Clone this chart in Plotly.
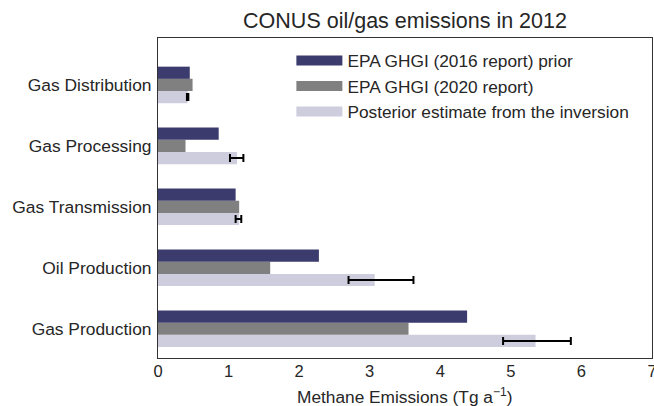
import plotly.graph_objects as go

categories = ["Gas Production", "Oil Production", "Gas Transmission", "Gas Processing", "Gas Distribution"]
ghgi_2016 = [4.38, 2.28, 1.10, 0.86, 0.45]
ghgi_2020 = [3.55, 1.59, 1.15, 0.39, 0.49]
posterior = [5.35, 3.07, 1.15, 1.12, 0.42]
post_err_plus = [0.50, 0.55, 0.03, 0.09, 0.01]
post_err_minus = [0.46, 0.37, 0.05, 0.10, 0.01]
x_ticks = [0, 1, 2, 3, 4, 5, 6, 7]

names = ["EPA GHGI (2016 report) prior", "EPA GHGI (2020 report)", "Posterior estimate from the inversion"]
colors = ["#3b3b6d", "#808080", "#cdcddd"]
x_title = "Methane Emissions (Tg a<sup>−1</sup>)"

FONT = "Liberation Sans, Arial, sans-serif"
TXT = "#262626"

fig = go.Figure()
fig.add_trace(go.Bar(
    y=categories, x=posterior, orientation="h", name=names[2], showlegend=False,
    marker=dict(color=colors[2], line=dict(width=0)),
    error_x=dict(type="data", array=post_err_plus, arrayminus=post_err_minus,
                 symmetric=False, color="black", thickness=2, width=4),
))
fig.add_trace(go.Bar(
    y=categories, x=ghgi_2020, orientation="h", name=names[1], showlegend=False,
    marker=dict(color=colors[1], line=dict(width=0)),
))
fig.add_trace(go.Bar(
    y=categories, x=ghgi_2016, orientation="h", name=names[0], showlegend=False,
    marker=dict(color=colors[0], line=dict(width=0)),
))
# legend entries drawn as wide rectangles (matplotlib-style patches)
for nm, c in zip(names, colors):
    fig.add_trace(go.Scatter(
        x=[None], y=[None], mode="lines", name=nm,
        line=dict(color=c, width=12), hoverinfo="skip",
    ))

fig.update_layout(
    width=654, height=406,
    margin=dict(l=158, r=2, t=38, b=48),
    paper_bgcolor="white", plot_bgcolor="white",
    barmode="group", bargap=0.4, bargroupgap=0,
    font=dict(family=FONT, size=17, color=TXT),
    title=dict(text="CONUS oil/gas emissions in 2012", x=405 / 654,
               xanchor="center", y=0.95, yanchor="middle",
               font=dict(size=21.5, color=TXT, family=FONT)),
    legend=dict(x=0.27, y=0.985, xanchor="left", yanchor="top",
                traceorder="normal", bgcolor="rgba(0,0,0,0)", itemwidth=46,
                font=dict(size=17.3, color=TXT, family=FONT)),
    showlegend=True,
    annotations=[dict(
        text=x_title, xref="paper", yref="paper", x=0.5, y=0,
        xanchor="center", yanchor="top", yshift=-25, showarrow=False,
        font=dict(size=17.3, color=TXT, family=FONT),
    )],
)
fig.update_xaxes(
    range=[0, 7], tickvals=x_ticks, showgrid=False, zeroline=False,
    showline=True, linecolor="#333333", linewidth=1, mirror=True,
    ticks="", ticklabelstandoff=-2, ticklabeloverflow="allow",
    tickfont=dict(size=16.5, color=TXT, family=FONT),
    automargin=False,
)
fig.update_yaxes(
    type="category", categoryorder="array", categoryarray=categories,
    range=[-0.48, 4.77], showgrid=False, zeroline=False,
    showline=True, linecolor="#333333", linewidth=1, mirror=True,
    ticks="", ticklabelstandoff=2, automargin=False,
    tickfont=dict(size=17.4, color=TXT, family=FONT),
)

fig.write_html(
    "out.html",
    config={"displayModeBar": False},
    post_script="document.body.style.margin='0px';document.body.style.overflow='hidden';",
)
